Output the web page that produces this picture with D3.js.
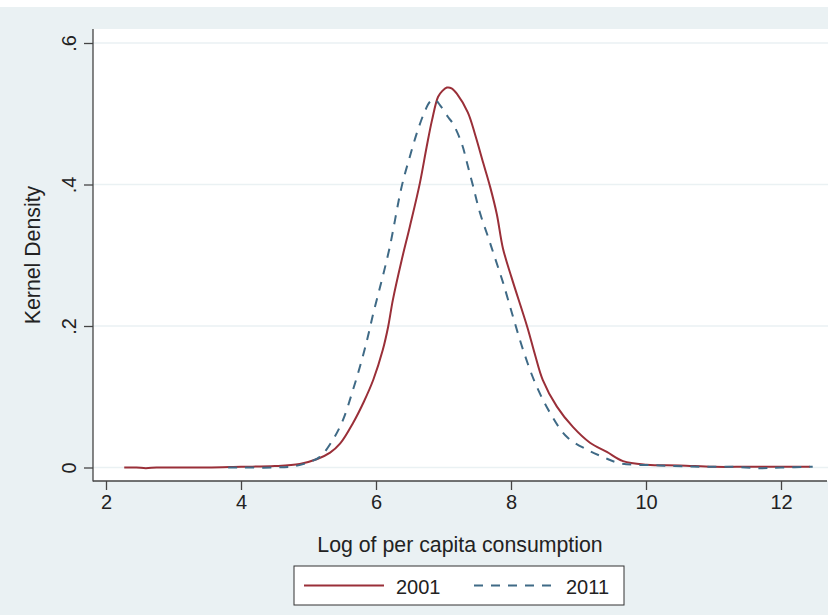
<!DOCTYPE html>
<html>
<head>
<meta charset="utf-8">
<script src="https://cdn.jsdelivr.net/npm/d3@7"></script>
<style>
  body { margin: 0; background: #fff; }
  text { font-family: "Liberation Sans", Arial, sans-serif; fill: #222; }
</style>
</head>
<body>
<script>
"use strict";

let width = 838;
let height = 615;

// kernel density, 2001
let x2001 = [2.27, 2.45, 2.59, 2.75, 3.0, 3.5, 4.0, 4.5, 4.87, 5.13, 5.32, 5.47, 5.66, 5.82, 5.96,
  6.10, 6.18, 6.25, 6.38, 6.50, 6.65, 6.75, 6.83, 6.92, 6.98, 7.05, 7.12, 7.2, 7.36, 7.47, 7.59,
  7.69, 7.79, 7.88, 8.01, 8.24, 8.36, 8.47, 8.68, 8.92, 9.17, 9.42, 9.66, 10.01, 10.5, 11.0, 11.5, 12.0, 12.43];
let d2001 = [0, 0, -0.001, 0, 0, 0, 0.001, 0.002, 0.005, 0.012, 0.021, 0.034, 0.063, 0.093, 0.124,
  0.166, 0.199, 0.237, 0.293, 0.34, 0.402, 0.453, 0.491, 0.524, 0.532, 0.537, 0.536, 0.528, 0.502, 0.47, 0.43,
  0.397, 0.358, 0.31, 0.268, 0.199, 0.158, 0.124, 0.086, 0.057, 0.035, 0.022, 0.009, 0.004, 0.003, 0.001, 0.001, 0.001, 0.001];

// kernel density, 2011
let x2011 = [3.81, 4.0, 4.5, 4.8, 5.02, 5.17, 5.36, 5.51, 5.66, 5.79, 5.88, 5.96, 6.06, 6.2, 6.38, 6.5,
  6.62, 6.73, 6.8, 6.87, 6.95, 7.07, 7.14, 7.27, 7.35, 7.44, 7.54, 7.66, 7.76, 7.88, 8.03, 8.18, 8.36,
  8.58, 8.83, 9.13, 9.36, 9.61, 10.2, 10.8, 11.3, 11.7, 12.0, 12.47];
let d2011 = [0, 0, 0, 0.002, 0.008, 0.015, 0.039, 0.067, 0.11, 0.152, 0.185, 0.218, 0.255, 0.31, 0.397, 0.439,
  0.477, 0.505, 0.517, 0.52, 0.512, 0.495, 0.486, 0.458, 0.43, 0.397, 0.36, 0.326, 0.297, 0.262, 0.213, 0.166, 0.119,
  0.077, 0.043, 0.025, 0.015, 0.006, 0.003, 0.001, 0.001, -0.001, 0, 0.001];

let xTicks = [2, 4, 6, 8, 10, 12];
let yTicks = [0, 0.2, 0.4, 0.6];
let yTickLabels = ["0", ".2", ".4", ".6"];
let seriesNames = ["2001", "2011"];

let red = "#9a2f38";
let blue = "#3f6a86";
let bg = "#eaf1f3";

let plot = { left: 93, top: 29, right: 828, bottom: 481 };

let svg = d3.select("body").append("svg").attr("width", width).attr("height", height);

svg.append("rect").attr("x", 0).attr("y", 7).attr("width", plot.right).attr("height", height - 7).attr("fill", bg);
svg.append("rect")
  .attr("x", plot.left).attr("y", plot.top)
  .attr("width", plot.right - plot.left).attr("height", plot.bottom - plot.top)
  .attr("fill", "#fff");

let x = d3.scaleLinear().domain([2, 12]).range([106, 781]);
let y = d3.scaleLinear().domain([0, 0.6]).range([467.5, 43]);

// gridlines
svg.append("g").selectAll("line")
  .data(yTicks)
  .enter()
  .append("line")
  .attr("x1", plot.left).attr("x2", plot.right)
  .attr("y1", d => y(d)).attr("y2", d => y(d))
  .attr("stroke", bg)
  .style("stroke-width", "1.5px");

let line = d3.line().curve(d3.curveCatmullRom.alpha(0.5));

svg.append("path")
  .attr("d", line(x2001.map((v, i) => [x(v), y(d2001[i])])))
  .attr("fill", "none")
  .attr("stroke", red)
  .style("stroke-width", "2px");

svg.append("path")
  .attr("d", line(x2011.map((v, i) => [x(v), y(d2011[i])])))
  .attr("fill", "none")
  .attr("stroke", blue)
  .attr("stroke-dasharray", "9,8")
  .style("stroke-width", "2px");

// axes
let yAxis = svg.append("g")
  .attr("transform", "translate(" + plot.left + ",0)")
  .call(d3.axisLeft(y).tickValues(yTicks).tickSize(9)
    .tickFormat((d, i) => yTickLabels[i]));
yAxis.select(".domain").remove();
yAxis.selectAll("line").attr("stroke", "#444").style("stroke-width", "1.3px");
yAxis.selectAll("text")
  .attr("font-size", 20)
  .attr("fill", "#222")
  .attr("x", -17).attr("y", 0).attr("dy", null)
  .attr("transform", "rotate(-90,-17,0)")
  .attr("text-anchor", "middle");

let xAxis = svg.append("g")
  .attr("transform", "translate(0," + plot.bottom + ")")
  .call(d3.axisBottom(x).tickValues(xTicks).tickSize(9).tickPadding(5).tickFormat(d3.format("d")));
xAxis.select(".domain").remove();
xAxis.selectAll("line").attr("stroke", "#444").style("stroke-width", "1.3px");
xAxis.selectAll("text").attr("font-size", 20).attr("fill", "#222");

svg.append("line")
  .attr("x1", plot.left).attr("x2", plot.left)
  .attr("y1", plot.top).attr("y2", plot.bottom + 0.6)
  .attr("stroke", "#444").style("stroke-width", "1.3px");
svg.append("line")
  .attr("x1", plot.left).attr("x2", plot.right - 1)
  .attr("y1", plot.bottom).attr("y2", plot.bottom)
  .attr("stroke", "#444").style("stroke-width", "1.3px");

// axis titles
svg.append("text")
  .attr("x", 460).attr("y", 552)
  .attr("text-anchor", "middle")
  .attr("font-size", 21.3)
  .text("Log of per capita consumption");

svg.append("text")
  .attr("transform", "translate(40,255) rotate(-90)")
  .attr("text-anchor", "middle")
  .attr("font-size", 21.3)
  .text("Kernel Density");

// legend
let legend = svg.append("g");
legend.append("rect")
  .attr("x", 294).attr("y", 566).attr("width", 330).attr("height", 39)
  .attr("fill", "#fff").attr("stroke", "#333").style("stroke-width", "1px");

let legendItems = [
  { name: seriesNames[0], color: red, dash: null, x0: 304 },
  { name: seriesNames[1], color: blue, dash: "9,8", x0: 474 }
];
legend.selectAll(".item")
  .data(legendItems)
  .enter()
  .append("g")
  .attr("class", "item")
  .each(function (d) {
    let g = d3.select(this);
    g.append("line")
      .attr("x1", d.x0).attr("x2", d.x0 + 80)
      .attr("y1", 585.5).attr("y2", 585.5)
      .attr("stroke", d.color)
      .attr("stroke-dasharray", d.dash)
      .style("stroke-width", "2px");
    g.append("text")
      .attr("x", d.x0 + 92).attr("y", 594)
      .attr("font-size", 20)
      .text(d.name);
  });
</script>
</body>
</html>
